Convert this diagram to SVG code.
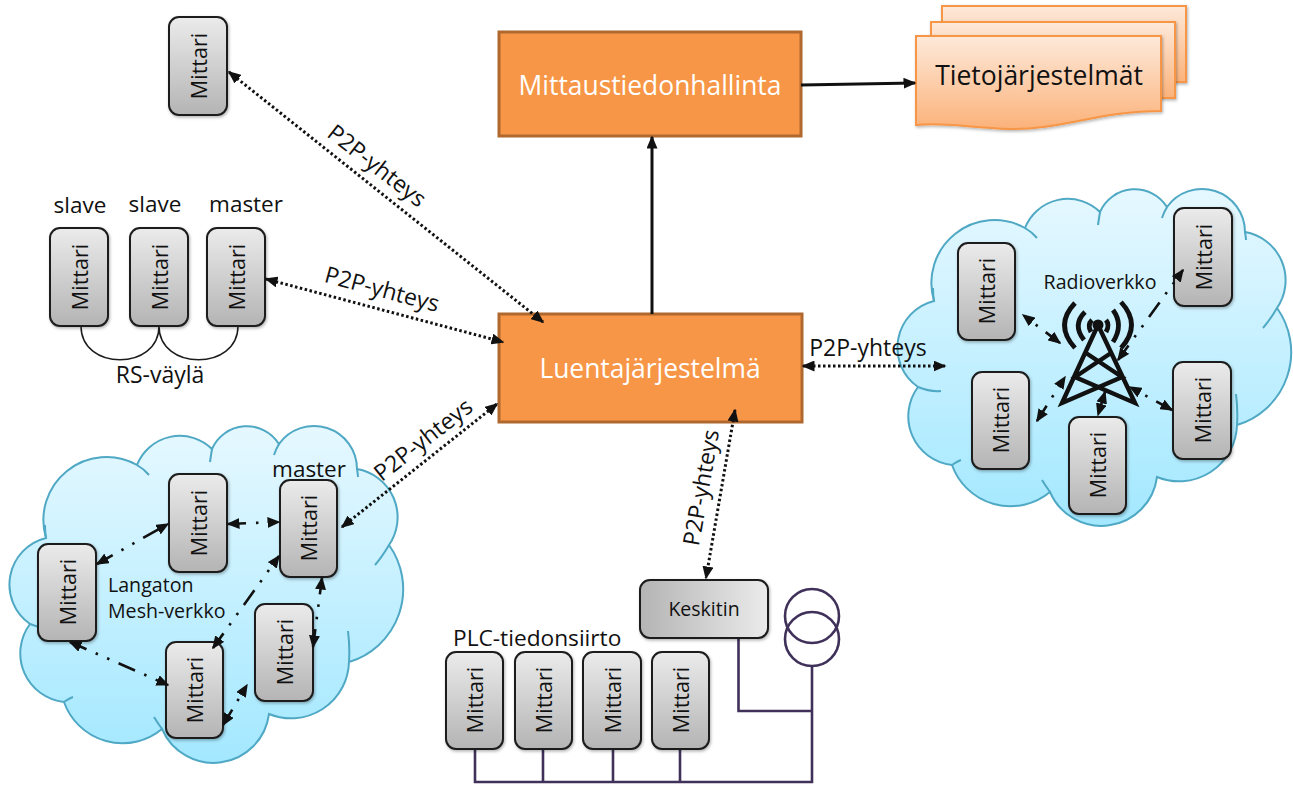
<svg xmlns="http://www.w3.org/2000/svg" width="1293" height="785" viewBox="0 0 1293 785">
<style>
text{font-family:"Open Sans","Noto Sans","Liberation Sans",sans-serif;fill:#111}
.m{fill:url(#gm);stroke:#1c1c1c;stroke-width:2;filter:url(#sh)}
.mt{font-size:21.5px;text-anchor:middle;dominant-baseline:central}
.big{fill:#f79646;stroke:#b0682f;stroke-width:3}
.bt{font-size:26.4px;fill:#fff;text-anchor:middle}
.lb{font-size:22.5px;text-anchor:middle}
.p{font-size:23px;text-anchor:middle}
.c{font-size:19.6px}
.dot{fill:none;stroke:#111;stroke-width:3;stroke-dasharray:2.5 2.5;marker-start:url(#a);marker-end:url(#a)}
.dd{fill:none;stroke:#111;stroke-width:2.6;stroke-dasharray:18 10 2.5 10 2.5 10;marker-start:url(#a);marker-end:url(#a)}
.sol{fill:none;stroke:#111;stroke-width:3;marker-end:url(#a)}
.w{fill:none;stroke:#3f3159;stroke-width:2.6}
.t{fill:none;stroke:#111;stroke-width:4.4}
.doc{fill:url(#gd);stroke:#f79646;stroke-width:2;filter:url(#sh)}
</style>
<defs>
<linearGradient id="gm" x1="0" y1="0" x2="0" y2="1"><stop offset="0" stop-color="#ebebeb"/><stop offset="1" stop-color="#b4b4b4"/></linearGradient>
<linearGradient id="gk" x1="0" y1="0" x2="1" y2="0"><stop offset="0" stop-color="#b4b4b4"/><stop offset="1" stop-color="#ebebeb"/></linearGradient>
<linearGradient id="gc" x1="0" y1="0" x2="0" y2="1"><stop offset="0" stop-color="#e6f8ff"/><stop offset="1" stop-color="#a3e8ff"/></linearGradient>
<linearGradient id="gd" x1="0" y1="0" x2="0" y2="1"><stop offset="0" stop-color="#fde9da"/><stop offset="1" stop-color="#fbb27a"/></linearGradient>
<filter id="sh" x="-10%" y="-10%" width="125%" height="125%"><feDropShadow dx="1" dy="1.5" stdDeviation="1.5" flood-color="#000" flood-opacity=".3"/></filter>
<marker id="a" markerUnits="userSpaceOnUse" markerWidth="13" markerHeight="11" viewBox="0 0 13 11" refX="11.5" refY="5.5" orient="auto-start-reverse"><path d="M0 0L13 5.5L0 11z" fill="#111"/></marker>
<g id="cloud">
<path d="M934 301A63 63 0 0 1 1025 228A46 46 0 0 1 1100 212A38 38 0 0 1 1167 207A43 43 0 0 1 1245 232A49 49 0 0 1 1277 308A76 76 0 0 1 1237 425A58 58 0 0 1 1157 477A56 56 0 0 1 1050 492A62 62 0 0 1 952 465A49 49 0 0 1 918 387A48 48 0 0 1 934 301Z" fill="url(#gc)" stroke="#4fa8c4" stroke-width="2"/>
<path d="M934 301Q933 295 933 288M1025 228Q1032 232 1037 238M1100 212Q1099 218 1098 225M1167 207Q1164 212 1162 218M1245 232Q1246 238 1246 240M1277 308Q1270 320 1263 328M1237 425Q1238 410 1236 394M1050 492Q1045 485 1042 480M952 465Q958 461 961 460M918 387Q930 392 941 391" fill="none" stroke="#4fa8c4" stroke-width="2"/>
</g>
</defs>

<g id="cloud-radio"><use href="#cloud"/></g>
<g id="cloud-mesh"><use href="#cloud" transform="translate(-888 237)"/></g>

<g id="mittaustiedonhallinta"><rect class="big" x="499" y="32" width="302" height="104"/><text class="bt" x="650" y="95">Mittaustiedonhallinta</text></g>
<g id="luentajarjestelma"><rect class="big" x="499" y="314" width="303" height="108"/><text class="bt" x="650" y="378">Luentajärjestelmä</text></g>
<g id="tietojarjestelmat">
<rect class="doc" x="942" y="6" width="244" height="76"/>
<rect class="doc" x="931" y="22" width="244" height="76"/>
<path class="doc" d="M916 36H1161V111C1100 111 1060 130 1010 129C970 128 945 122 916 125Z"/>
<text x="1039" y="85" font-size="26.500" text-anchor="middle">Tietojärjestelmät</text>
</g>

<g id="m-top"><rect class="m" x="169" y="17" width="58" height="98" rx="10"/><text class="mt" transform="translate(198 66) rotate(-90)">Mittari</text></g>
<g id="m-slave1"><rect class="m" x="50" y="228" width="58" height="98" rx="10"/><text class="mt" transform="translate(79 277) rotate(-90)">Mittari</text></g>
<g id="m-slave2"><rect class="m" x="130" y="228" width="58" height="98" rx="10"/><text class="mt" transform="translate(159 277) rotate(-90)">Mittari</text></g>
<g id="m-master"><rect class="m" x="207" y="228" width="58" height="98" rx="10"/><text class="mt" transform="translate(236 277) rotate(-90)">Mittari</text></g>

<g id="m-r1"><rect class="m" x="958" y="243" width="57" height="97" rx="10"/><text class="mt" transform="translate(986.500 291) rotate(-90)">Mittari</text></g>
<g id="m-r2"><rect class="m" x="1174" y="208" width="58" height="98" rx="10"/><text class="mt" transform="translate(1203 257) rotate(-90)">Mittari</text></g>
<g id="m-r3"><rect class="m" x="972" y="372" width="57" height="97" rx="10"/><text class="mt" transform="translate(1000.500 420) rotate(-90)">Mittari</text></g>
<g id="m-r4"><rect class="m" x="1069" y="417" width="57" height="97" rx="10"/><text class="mt" transform="translate(1097.500 465) rotate(-90)">Mittari</text></g>
<g id="m-r5"><rect class="m" x="1173" y="362" width="58" height="97" rx="10"/><text class="mt" transform="translate(1202 410) rotate(-90)">Mittari</text></g>

<g id="m-l1"><rect class="m" x="169" y="474" width="58" height="98" rx="10"/><text class="mt" transform="translate(198 523) rotate(-90)">Mittari</text></g>
<g id="m-l2"><rect class="m" x="280" y="480" width="57" height="97" rx="10"/><text class="mt" transform="translate(308.500 528) rotate(-90)">Mittari</text></g>
<g id="m-l3"><rect class="m" x="38" y="544" width="58" height="97" rx="10"/><text class="mt" transform="translate(67 592) rotate(-90)">Mittari</text></g>
<g id="m-l4"><rect class="m" x="255" y="604" width="58" height="97" rx="10"/><text class="mt" transform="translate(284 652) rotate(-90)">Mittari</text></g>
<g id="m-l5"><rect class="m" x="166" y="642" width="57" height="96" rx="10"/><text class="mt" transform="translate(194.500 690) rotate(-90)">Mittari</text></g>

<g id="plc-wires">
<path class="w" d="M475 749V782H812V666M543 749V782M613 749V782M680 749V782M738.500 638V711H812"/>
<circle class="w" cx="812" cy="616" r="27"/><circle class="w" cx="812" cy="639" r="27"/>
</g>
<g id="m-p1"><rect class="m" x="446" y="652" width="57" height="97" rx="10"/><text class="mt" transform="translate(474.500 700) rotate(-90)">Mittari</text></g>
<g id="m-p2"><rect class="m" x="515" y="652" width="57" height="97" rx="10"/><text class="mt" transform="translate(543.500 700) rotate(-90)">Mittari</text></g>
<g id="m-p3"><rect class="m" x="583" y="652" width="58" height="97" rx="10"/><text class="mt" transform="translate(612 700) rotate(-90)">Mittari</text></g>
<g id="m-p4"><rect class="m" x="652" y="652" width="57" height="97" rx="10"/><text class="mt" transform="translate(680.500 700) rotate(-90)">Mittari</text></g>
<g id="keskitin"><rect class="m" style="fill:url(#gk)" x="640" y="580" width="128" height="58" rx="10"/><text x="704" y="616" font-size="19.500" text-anchor="middle">Keskitin</text></g>

<g id="tower">
<circle cx="1098" cy="325" r="5.500" fill="#111"/>
<path class="t" d="M1098 325L1062 403L1122 377L1086 353M1098 325L1135 403L1075 377L1111 353"/>
<path class="t" style="stroke-width:4.800" d="M1075 303Q1054 325 1075 348M1085 312Q1072 325 1084 340M1092 320Q1087 325 1091 332M1121 302Q1142 325 1121 348M1113 310Q1124 325 1113 342M1106 320Q1110 325 1106 332"/>
</g>

<g id="connectors">
<path class="dot" d="M229 72L543 322"/>
<path class="dot" d="M266 279L503 342"/>
<path class="dot" d="M342 527L497 404"/>
<path class="dot" d="M803 366H945"/>
<path class="dot" d="M735 410L706 578"/>
<path class="sol" d="M652 314V137"/>
<path class="sol" d="M801 85L915 83"/>
<path class="dd" d="M1060 343L1023 315"/>
<path class="dd" d="M1118 360L1183 270"/>
<path class="dd" d="M1037 421L1065 377"/>
<path class="dd" d="M1105 392L1098 415"/>
<path class="dd" d="M1172 410L1130 387"/>
<path class="dd" d="M97 564L168 524"/>
<path class="dd" d="M228 524L279 522"/>
<path class="dd" d="M213 648L279 556"/>
<path class="dd" d="M313 647L322 578"/>
<path class="dd" d="M223 725L247 685"/>
<path class="dd" d="M70 642L168 685"/>
<path fill="none" stroke="#1c1c1c" stroke-width="1.500" d="M81 326C81 371 159 371 159 326C159 371 238 371 238 326"/>
</g>

<g id="labels">
<text class="lb" x="80" y="213">slave</text>
<text class="lb" x="155" y="212">slave</text>
<text class="lb" x="246" y="212">master</text>
<text class="p" x="160" y="383">RS-väylä</text>
<text class="lb" x="309" y="477">master</text>
<text x="453" y="646" font-size="22.700">PLC-tiedonsiirto</text>
<text class="c" x="1100" y="289" text-anchor="middle">Radioverkko</text>
<text class="c" x="108" y="592">Langaton</text>
<text class="c" x="108" y="618">Mesh-verkko</text>
<text class="p" transform="translate(372 172) rotate(38)">P2P-yhteys</text>
<text class="p" transform="translate(380 297) rotate(15)">P2P-yhteys</text>
<text class="p" transform="translate(428 446) rotate(-38)">P2P-yhteys</text>
<text class="p" x="868" y="356">P2P-yhteys</text>
<text class="p" transform="translate(709 489) rotate(-80)">P2P-yhteys</text>
</g>
</svg>
